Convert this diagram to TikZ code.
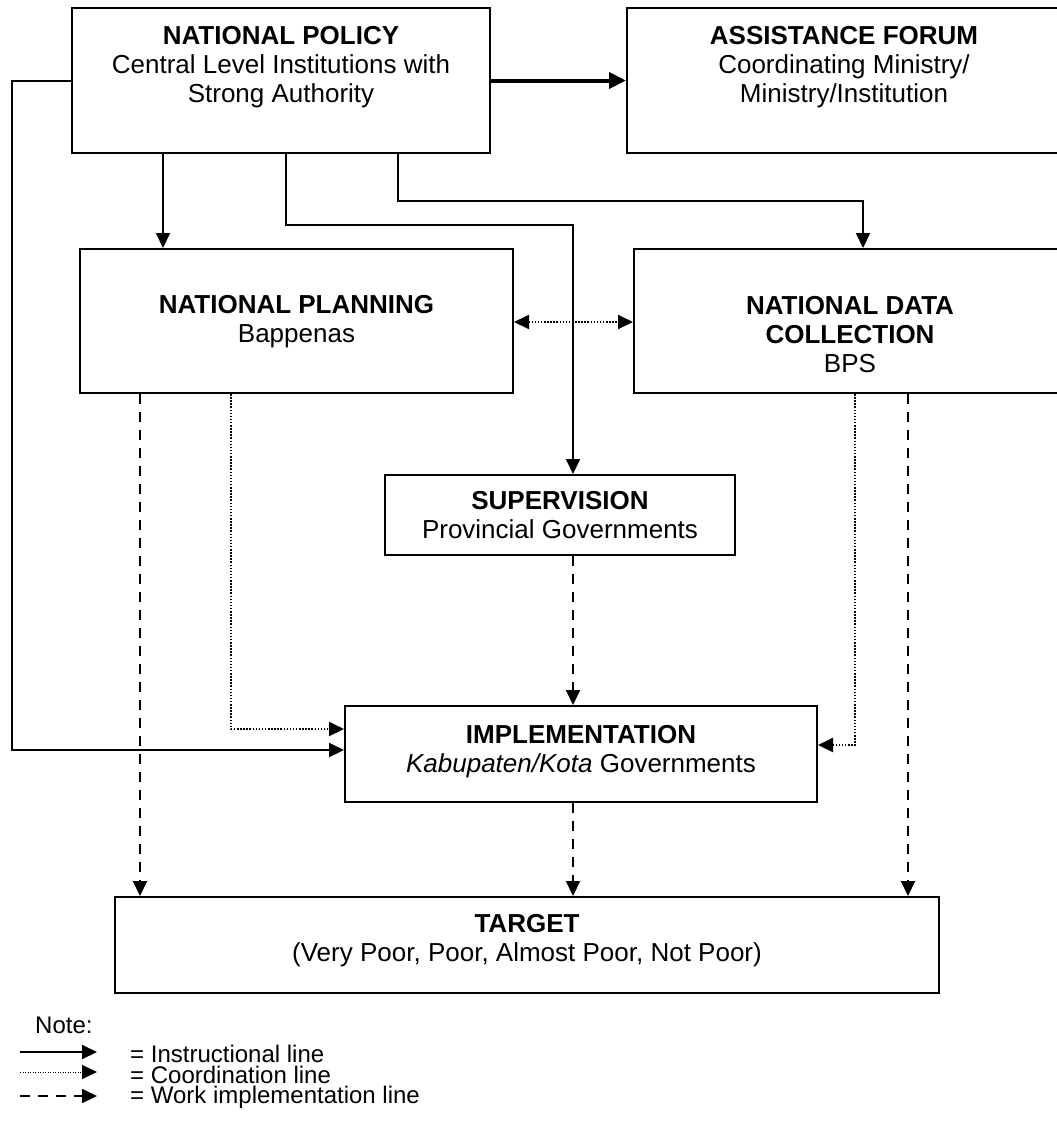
\documentclass[tikz,border=0pt]{standalone}
\usepackage{fontspec}
\setmainfont{Liberation Sans}
\usetikzlibrary{arrows.meta}
\begin{document}
\begin{tikzpicture}[x=1pt,y=-1pt,
  box/.style={draw,line width=2pt,inner sep=0pt},
  lbl/.style={align=center,inner sep=0pt,font=\fontsize{26}{29}\selectfont},
  leg/.style={anchor=west,inner sep=0pt,align=left,font=\fontsize{24}{20.5}\selectfont},
  tip/.style={-{Triangle[length=15pt,width=14pt]}},
  instr/.style={line width=2pt,tip},
  coordl/.style={line width=2pt,dash pattern=on 1.5pt off 1.6pt,tip},
  workl/.style={line width=2pt,dash pattern=on 10pt off 8pt,tip},
]
\clip (0,0) rectangle (1057,1122);
\fill[white] (0,0) rectangle (1057,1122);

% boxes
\node[box,minimum width=418pt,minimum height=145pt] (policy) at (281,80.5) {};
\node[lbl] (policyT) at (281,67) {\textbf{NATIONAL POLICY}\\Central Level Institutions with\\Strong Authority};

\node[box,minimum width=434pt,minimum height=145pt] (assist) at (844,80.5) {};
\node[lbl] (assistT) at (844,67) {\textbf{ASSISTANCE FORUM}\\Coordinating Ministry/\\Ministry/Institution};

\node[box,minimum width=433pt,minimum height=144pt] (plan) at (296.5,321) {};
\node[lbl] (planT) at (296.5,322) {\textbf{NATIONAL PLANNING}\\Bappenas};

\node[box,minimum width=432pt,minimum height=144pt] (data) at (850,321) {};
\node[lbl] (dataT) at (850,335) {\textbf{NATIONAL DATA}\\\textbf{COLLECTION}\\BPS};

\node[box,minimum width=350pt,minimum height=80pt] (sup) at (560,515) {};
\node[lbl] (supT) at (560,515) {\textbf{SUPERVISION}\\Provincial Governments};

\node[box,minimum width=472pt,minimum height=96pt] (impl) at (581,754) {};
\node[lbl] (implT) at (581,752) {\textbf{IMPLEMENTATION}\\\textit{Kabupaten/Kota} Governments};

\node[box,minimum width=824pt,minimum height=96pt] (target) at (527,945) {};
\node[lbl] (targetT) at (527,941) {\textbf{TARGET}\\(Very Poor, Poor, Almost Poor, Not Poor)};

% column / row helpers
\coordinate (xA) at (163,0);
\coordinate (xB) at (286,0);
\coordinate (xC) at (398,0);
\coordinate (xD) at (573,0);
\coordinate (xE) at (863,0);
\coordinate (xF) at (140,0);
\coordinate (xG) at (231,0);
\coordinate (xH) at (855,0);
\coordinate (xI) at (908,0);
\coordinate (xL) at (12,0);
\coordinate (yP) at (0,81);
\coordinate (yB) at (0,225);
\coordinate (yC) at (0,201);
\coordinate (yDot) at (0,729);
\coordinate (ySol) at (0,750);
\coordinate (yDotR) at (0,745);
\coordinate (yMid) at (0,322);

% instructional lines
\draw[line width=4pt,-{Triangle[length=17pt,width=16pt]}] (policy.east) -- (assist.west);
\draw[instr] (policy.south -| xA) -- (plan.north -| xA);
\draw[instr] (policy.south -| xB) |- (xD |- yB) -- (sup.north -| xD);
\draw[instr] (policy.south -| xC) |- (xE |- yC) -- (data.north -| xE);
\draw[instr] (policy.west |- yP) -| (xL |- ySol) -- (impl.west |- ySol);

% coordination lines
\draw[line width=2pt,dash pattern=on 1.5pt off 1.6pt,{Triangle[length=15pt,width=14pt]}-{Triangle[length=15pt,width=14pt]}] (plan.east |- yMid) -- (data.west |- yMid);
\draw[coordl] (plan.south -| xG) |- (impl.west |- yDot);
\draw[coordl] (data.south -| xH) |- (impl.east |- yDotR);

% work implementation lines
\draw[workl] (plan.south -| xF) -- (target.north -| xF);
\draw[workl] (data.south -| xI) -- (target.north -| xI);
\draw[workl] (sup.south -| xD) -- (impl.north -| xD);
\draw[workl] (impl.south -| xD) -- (target.north -| xD);

% legend
\node[leg] (note) at (35,1025) {Note:};
\coordinate (l1a) at (20,1052); \coordinate (l1b) at (97,1052);
\coordinate (l2a) at (20,1072); \coordinate (l2b) at (97,1072);
\coordinate (l3a) at (20,1096); \coordinate (l3b) at (97,1096);
\draw[instr] (l1a) -- (l1b);
\draw[line width=1pt,dash pattern=on 1pt off 1.5pt,tip] (l2a) -- (l2b);
\draw[workl] (l3a) -- (l3b);
\node[leg,anchor=north west] (legT) at (130,1045) {= Instructional line\\= Coordination line\\= Work implementation line};
\end{tikzpicture}
\end{document}
